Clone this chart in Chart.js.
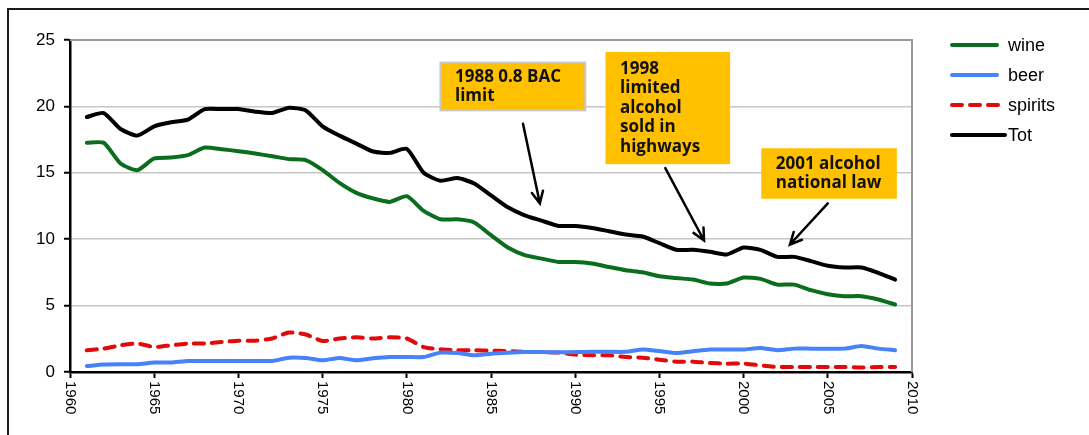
<!DOCTYPE html>
<html>
<head>
<meta charset="utf-8">
<script src="https://cdn.jsdelivr.net/npm/chart.js@4.4.0/dist/chart.umd.min.js"></script>
<style>
  html, body { margin: 0; padding: 0; background: #fff; }
  canvas { display: block; }
</style>
</head>
<body>
<canvas id="chart" width="1089" height="435"></canvas>
<script>
// Years on the x axis (1961 - 2009)
const years = [1961, 1962, 1963, 1964, 1965, 1966, 1967, 1968, 1969, 1970,
  1971, 1972, 1973, 1974, 1975, 1976, 1977, 1978, 1979, 1980,
  1981, 1982, 1983, 1984, 1985, 1986, 1987, 1988, 1989, 1990,
  1991, 1992, 1993, 1994, 1995, 1996, 1997, 1998, 1999, 2000,
  2001, 2002, 2003, 2004, 2005, 2006, 2007, 2008, 2009];

const wine = [17.26, 17.26, 15.7, 15.2, 16.08, 16.15, 16.33, 16.9, 16.78, 16.63,
  16.45, 16.25, 16.03, 15.95, 15.2, 14.24, 13.49, 13.07, 12.81, 13.24,
  12.13, 11.5, 11.5, 11.26, 10.3, 9.37, 8.8, 8.54, 8.29, 8.29,
  8.17, 7.91, 7.66, 7.51, 7.21, 7.08, 6.96, 6.66, 6.66, 7.11,
  7.01, 6.58, 6.58, 6.16, 5.86, 5.71, 5.71, 5.46, 5.08];

const beer = [0.45, 0.56, 0.58, 0.58, 0.71, 0.71, 0.83, 0.83, 0.83, 0.83,
  0.83, 0.83, 1.08, 1.06, 0.88, 1.06, 0.88, 1.03, 1.13, 1.13,
  1.13, 1.46, 1.43, 1.26, 1.38, 1.45, 1.5, 1.5, 1.48, 1.5,
  1.52, 1.52, 1.52, 1.7, 1.58, 1.43, 1.56, 1.69, 1.69, 1.69,
  1.81, 1.64, 1.76, 1.76, 1.76, 1.76, 1.96, 1.76, 1.64];

const spirits = [1.64, 1.76, 2.01, 2.14, 1.88, 2.01, 2.14, 2.14, 2.26, 2.36,
  2.36, 2.52, 2.97, 2.82, 2.34, 2.52, 2.61, 2.52, 2.61, 2.52,
  1.88, 1.71, 1.64, 1.64, 1.6, 1.58, 1.51, 1.51, 1.46, 1.31,
  1.26, 1.26, 1.13, 1.08, 0.93, 0.78, 0.78, 0.68, 0.63, 0.63,
  0.5, 0.38, 0.38, 0.38, 0.38, 0.38, 0.33, 0.38, 0.38];

const tot = [19.2, 19.5, 18.3, 17.8, 18.5, 18.8, 19.0, 19.8, 19.8, 19.8,
  19.6, 19.5, 19.9, 19.7, 18.5, 17.8, 17.2, 16.6, 16.5, 16.8,
  15.0, 14.4, 14.6, 14.2, 13.3, 12.4, 11.8, 11.4, 11.0, 11.0,
  10.85, 10.6, 10.35, 10.2, 9.7, 9.2, 9.2, 9.05, 8.85, 9.37,
  9.2, 8.67, 8.67, 8.35, 8.0, 7.87, 7.87, 7.47, 6.96];

const seriesNames = ['wine', 'beer', 'spirits', 'Tot'];
const xTicks = [1960, 1965, 1970, 1975, 1980, 1985, 1990, 1995, 2000, 2005, 2010];
const yTicks = [0, 5, 10, 15, 20, 25];

// Annotation texts
const noteTexts = [
  ['1988 0.8 BAC', 'limit'],
  ['1998', 'limited', 'alcohol', 'sold in', 'highways'],
  ['2001 alcohol', 'national law']
];

const colors = { wine: '#0A6E1E', beer: '#4682F8', spirits: '#E00A0A', Tot: '#000000' };

// Boxes and arrows, placed in axis units (year, value)
const noteBoxes = [
  { x0: 1982.0, x1: 1990.6, y0: 23.3, y1: 19.7, border: true },
  { x0: 1991.8, x1: 1999.2, y0: 24.1, y1: 15.65, border: false },
  { x0: 2001.05, x1: 2009.1, y0: 16.85, y1: 13.05, border: false }
];
const noteArrows = [
  { from: [1986.9, 18.7], to: [1987.9, 12.7] },
  { from: [1995.35, 15.35], to: [1997.65, 9.9] },
  { from: [2005.0, 12.7], to: [2002.75, 9.6] }
];

function toPoints(vals) {
  return years.map((y, i) => ({ x: y, y: vals[i] }));
}

function makeSet(name, vals, dashed) {
  return {
    label: name,
    data: toPoints(vals),
    borderColor: colors[name],
    backgroundColor: colors[name],
    borderWidth: 4,
    borderDash: dashed ? [10, 8] : [],
    borderCapStyle: 'round',
    borderJoinStyle: 'round',
    pointRadius: 0,
    tension: 0.2,
    fill: false
  };
}

// Frame, plot border, rotated x labels, notes and legend
const extrasPlugin = {
  id: 'extras',
  beforeDraw(chart) {
    const ctx = chart.ctx;
    ctx.save();
    ctx.fillStyle = '#fff';
    ctx.fillRect(0, 0, chart.width, chart.height);
    ctx.restore();
  },
  afterDatasetsDraw(chart) {
    const { ctx, chartArea, scales } = chart;
    const xs = scales.x, ys = scales.y;

    // grey top and right plot border
    ctx.save();
    ctx.strokeStyle = '#9A9A9A';
    ctx.lineWidth = 2;
    ctx.beginPath();
    ctx.moveTo(chartArea.left, chartArea.top);
    ctx.lineTo(chartArea.right, chartArea.top);
    ctx.lineTo(chartArea.right, chartArea.bottom);
    ctx.stroke();
    ctx.restore();

    // note boxes
    noteBoxes.forEach((b, i) => {
      const left = xs.getPixelForValue(b.x0);
      const right = xs.getPixelForValue(b.x1);
      const top = ys.getPixelForValue(b.y0);
      const bottom = ys.getPixelForValue(b.y1);
      ctx.save();
      ctx.fillStyle = '#FFC000';
      ctx.fillRect(left, top, right - left, bottom - top);
      if (b.border) {
        ctx.strokeStyle = '#C8C8C8';
        ctx.lineWidth = 2;
        ctx.strokeRect(left, top, right - left, bottom - top);
      }
      ctx.fillStyle = '#111';
      ctx.font = 'bold 17px "Open Sans"';
      ctx.textBaseline = 'middle';
      const lines = noteTexts[i];
      const lineH = 19.5;
      const startY = top + (bottom - top) / 2 - (lines.length - 1) * lineH / 2;
      lines.forEach((t, k) => ctx.fillText(t, left + 14.5, startY + k * lineH));
      ctx.restore();
    });

    // arrows
    noteArrows.forEach(a => {
      const x1 = xs.getPixelForValue(a.from[0]), y1 = ys.getPixelForValue(a.from[1]);
      const x2 = xs.getPixelForValue(a.to[0]), y2 = ys.getPixelForValue(a.to[1]);
      const ang = Math.atan2(y2 - y1, x2 - x1);
      const head = 13;
      ctx.save();
      ctx.strokeStyle = '#000';
      ctx.lineWidth = 2.5;
      ctx.lineCap = 'round';
      ctx.beginPath();
      ctx.moveTo(x1, y1);
      ctx.lineTo(x2, y2);
      ctx.moveTo(x2 - head * Math.cos(ang - 0.45), y2 - head * Math.sin(ang - 0.45));
      ctx.lineTo(x2, y2);
      ctx.lineTo(x2 - head * Math.cos(ang + 0.45), y2 - head * Math.sin(ang + 0.45));
      ctx.stroke();
      ctx.restore();
    });
  },
  afterDraw(chart) {
    const { ctx, chartArea, scales } = chart;
    const xs = scales.x;

    // x labels, rotated clockwise
    ctx.save();
    ctx.fillStyle = '#000';
    ctx.font = '15px "Liberation Sans"';
    ctx.textAlign = 'left';
    ctx.textBaseline = 'middle';
    xTicks.forEach(v => {
      ctx.save();
      ctx.translate(xs.getPixelForValue(v), chartArea.bottom + 9);
      ctx.rotate(Math.PI / 2);
      ctx.fillText(String(v), 0, 0);
      ctx.restore();
    });
    ctx.restore();

    // outer frame
    ctx.save();
    ctx.strokeStyle = '#1A1A1A';
    ctx.lineWidth = 2;
    ctx.beginPath();
    ctx.moveTo(8, chart.height);
    ctx.lineTo(8, 9);
    ctx.lineTo(chart.width, 9);
    ctx.stroke();
    ctx.restore();

    // legend
    const legendX = chartArea.right + 40;
    ctx.save();
    ctx.font = '18px "Liberation Sans"';
    ctx.textBaseline = 'middle';
    chart.data.datasets.forEach((ds, i) => {
      const y = 45 + i * 30;
      const long = i >= 2;
      ctx.strokeStyle = ds.borderColor;
      ctx.lineWidth = 4;
      ctx.lineCap = 'round';
      ctx.setLineDash(ds.borderDash);
      ctx.beginPath();
      ctx.moveTo(legendX, y);
      ctx.lineTo(legendX + (long ? 53 : 45), y);
      ctx.stroke();
      ctx.setLineDash([]);
      ctx.fillStyle = '#000';
      ctx.fillText(seriesNames[i], legendX + 56, y + 1);
    });
    ctx.restore();
  }
};

const chart = new Chart(document.getElementById('chart'), {
  type: 'line',
  data: {
    datasets: [
      makeSet('wine', wine, false),
      makeSet('beer', beer, false),
      makeSet('spirits', spirits, true),
      makeSet('Tot', tot, false)
    ]
  },
  options: {
    responsive: false,
    animation: false,
    layout: { padding: { left: 8, top: 40, right: 177, bottom: 0 } },
    plugins: {
      legend: { display: false },
      tooltip: { enabled: false }
    },
    scales: {
      x: {
        type: 'linear',
        min: 1960,
        max: 2010,
        afterBuildTicks: s => { s.ticks = xTicks.map(v => ({ value: v })); },
        afterFit: s => { s.height = 63; },
        ticks: { display: false },
        grid: { drawOnChartArea: false, drawTicks: true, tickLength: 6, tickColor: '#000', tickWidth: 2 },
        border: { color: '#000', width: 2.5 }
      },
      y: {
        min: 0,
        max: 25,
        afterBuildTicks: s => { s.ticks = yTicks.map(v => ({ value: v })); },
        afterFit: s => { s.width = 62; },
        ticks: {
          color: '#000',
          padding: 9,
          font: { family: '"Liberation Sans"', size: 17 }
        },
        grid: { color: '#C6C6C6', lineWidth: 1.5, tickLength: 6, tickColor: '#000', tickWidth: 2 },
        border: { color: '#000', width: 2.5 }
      }
    }
  },
  plugins: [extrasPlugin]
});
</script>
</body>
</html>
